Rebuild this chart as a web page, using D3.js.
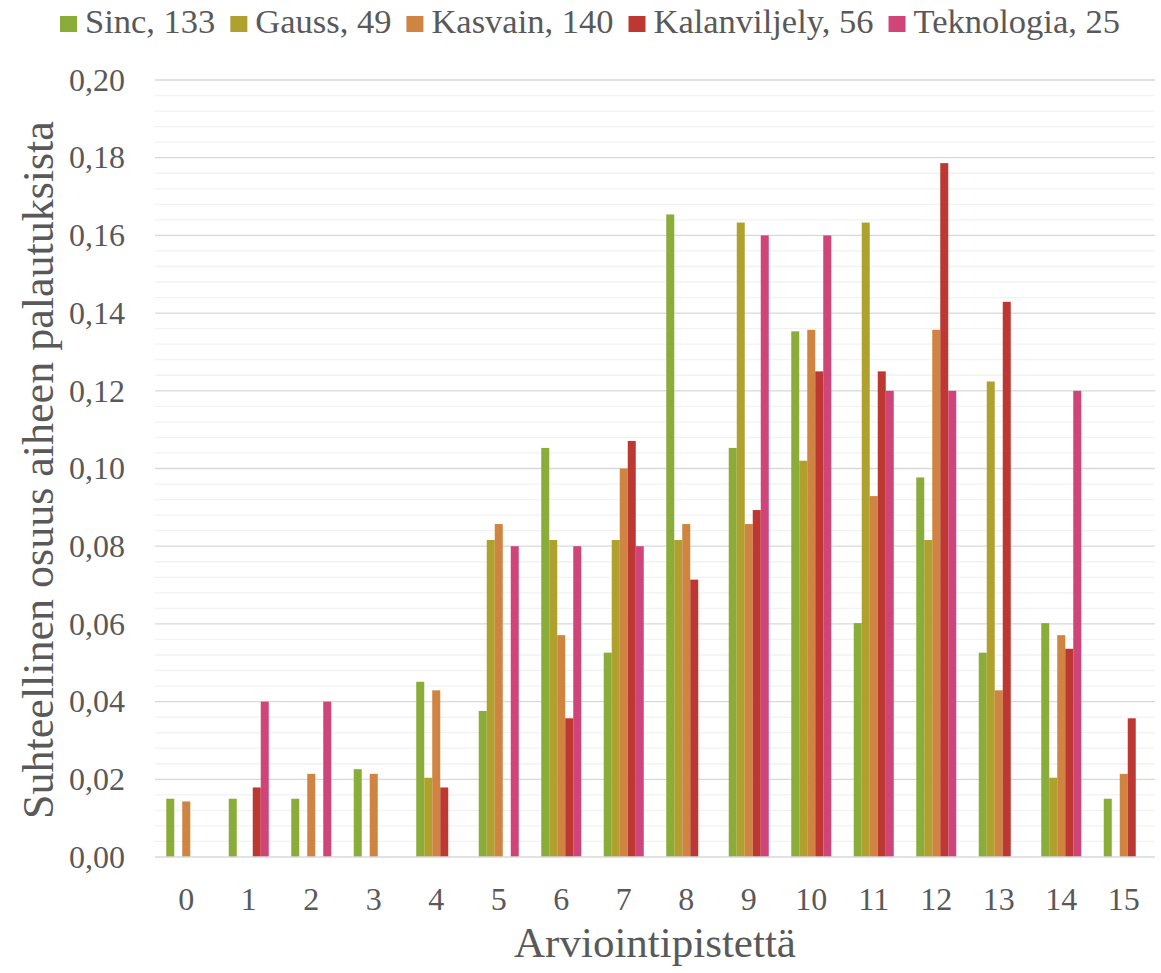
<!DOCTYPE html>
<html>
<head>
<meta charset="utf-8">
<script src="https://cdn.jsdelivr.net/npm/d3@7"></script>
</head>
<body style="margin:0; background:#fff">
<div id="chart" style="width:1161px; height:973px"></div>
<script>
// data
let categories = ["0", "1", "2", "3", "4", "5", "6", "7", "8", "9", "10", "11", "12", "13", "14", "15"];
let seriesNames = ["Sinc, 133", "Gauss, 49", "Kasvain, 140", "Kalanviljely, 56", "Teknologia, 25"];
let seriesColors = ["#8aac38", "#b0a02e", "#cf8442", "#bd3832", "#cf4479"];
let sinc = [0.0150, 0.0150, 0.0150, 0.0226, 0.0451, 0.0376, 0.1053, 0.0526, 0.1654, 0.1053, 0.1353, 0.0602, 0.0977, 0.0526, 0.0602, 0.0150];
let gauss = [0, 0, 0, 0, 0.0204, 0.0816, 0.0816, 0.0816, 0.0816, 0.1633, 0.1020, 0.1633, 0.0816, 0.1224, 0.0204, 0];
let kasvain = [0.0143, 0, 0.0214, 0.0214, 0.0429, 0.0857, 0.0571, 0.1000, 0.0857, 0.0857, 0.1357, 0.0929, 0.1357, 0.0429, 0.0571, 0.0214];
let kalanviljely = [0, 0.0179, 0, 0, 0.0179, 0, 0.0357, 0.1071, 0.0714, 0.0893, 0.1250, 0.1250, 0.1786, 0.1429, 0.0536, 0.0357];
let teknologia = [0, 0.04, 0.04, 0, 0, 0.08, 0.08, 0.08, 0, 0.16, 0.16, 0.12, 0.12, 0, 0.12, 0];
let yTicks = [0, 0.02, 0.04, 0.06, 0.08, 0.10, 0.12, 0.14, 0.16, 0.18, 0.20];
let yTitle = "Suhteellinen osuus aiheen palautuksista";
let xTitle = "Arviointipistettä";

let allSeries = [sinc, gauss, kasvain, kalanviljely, teknologia];

const TEXT_COLOR = "#595959";

let margin = { top: 80, right: 6, bottom: 116, left: 155 },
    width = 1161 - margin.left - margin.right,
    height = 973 - margin.top - margin.bottom;

let root = d3.select("#chart").append("svg")
    .attr("width", 1161)
    .attr("height", 973)
    .attr("font-family", "Liberation Serif");

let svg = root.append("g")
    .attr("transform", "translate(" + margin.left + "," + margin.top + ")");

let xScale = d3.scaleBand().domain(categories).range([0, width])
    .paddingInner(0.36).paddingOuter(0.18);
let xInner = d3.scaleBand().domain(d3.range(seriesNames.length)).range([0, xScale.bandwidth()]);
let yScale = d3.scaleLinear().domain([0, 0.20]).range([height, 0]);

// minor gridlines (every 0.004)
let minor = d3.range(0, 0.2001, 0.004).filter(v => Math.abs(v / 0.02 - Math.round(v / 0.02)) > 0.01);
svg.append("g").selectAll("line").data(minor).join("line")
    .attr("x1", 0).attr("x2", width)
    .attr("y1", d => yScale(d)).attr("y2", d => yScale(d))
    .attr("stroke", "#f2f2f2").attr("stroke-width", 1.3);

// major gridlines
svg.append("g").selectAll("line").data(yTicks.slice(1)).join("line")
    .attr("x1", 0).attr("x2", width)
    .attr("y1", d => yScale(d)).attr("y2", d => yScale(d))
    .attr("stroke", "#d9d9d9").attr("stroke-width", 1.3);

// bars
allSeries.forEach((vals, i) => {
    svg.append("g").selectAll("rect").data(vals).join("rect")
        .attr("x", (d, j) => xScale(categories[j]) + xInner(i))
        .attr("width", xInner.bandwidth())
        .attr("y", d => yScale(d))
        .attr("height", d => height - yScale(d))
        .attr("fill", seriesColors[i]);
});

// x axis line
svg.append("line")
    .attr("x1", 0).attr("x2", width)
    .attr("y1", height).attr("y2", height)
    .attr("stroke", "#d9d9d9").attr("stroke-width", 1.5);

// Y axis labels
let yAxis = svg.append("g")
    .call(d3.axisLeft(yScale).tickValues(yTicks).tickSize(0).tickPadding(30)
        .tickFormat(d => d3.format(".2f")(d).replace(".", ",")));
yAxis.attr("font-family", "Liberation Serif").attr("font-size", 32);
yAxis.select(".domain").remove();
yAxis.selectAll("text").attr("fill", TEXT_COLOR);

// X axis labels
let xAxis = svg.append("g")
    .attr("transform", "translate(0," + height + ")")
    .call(d3.axisBottom(xScale).tickSize(0).tickPadding(30));
xAxis.attr("font-family", "Liberation Serif").attr("font-size", 32);
xAxis.select(".domain").remove();
xAxis.selectAll("text").attr("fill", TEXT_COLOR);

// axis titles
root.append("text")
    .attr("x", margin.left + width / 2)
    .attr("y", 957)
    .attr("text-anchor", "middle")
    .attr("font-size", 43).attr("fill", TEXT_COLOR)
    .text(xTitle);

root.append("text")
    .attr("transform", "translate(53,470) rotate(-90)")
    .attr("text-anchor", "middle")
    .attr("font-size", 44).attr("fill", TEXT_COLOR)
    .text(yTitle);

// legend
let legend = root.append("g");
let lx = 0;
seriesNames.forEach((name, i) => {
    let item = legend.append("g").attr("transform", "translate(" + lx + ",0)");
    item.append("rect")
        .attr("x", 0).attr("y", -17)
        .attr("width", 17).attr("height", 16)
        .attr("fill", seriesColors[i]);
    let t = item.append("text")
        .attr("x", 25).attr("y", 0)
        .attr("font-size", 34.5).attr("fill", TEXT_COLOR)
        .text(name);
    lx += 25 + t.node().getComputedTextLength() + 15;
});
let legendWidth = lx - 15;
legend.attr("transform", "translate(" + (590 - legendWidth / 2) + ",33)");
</script>
</body>
</html>
